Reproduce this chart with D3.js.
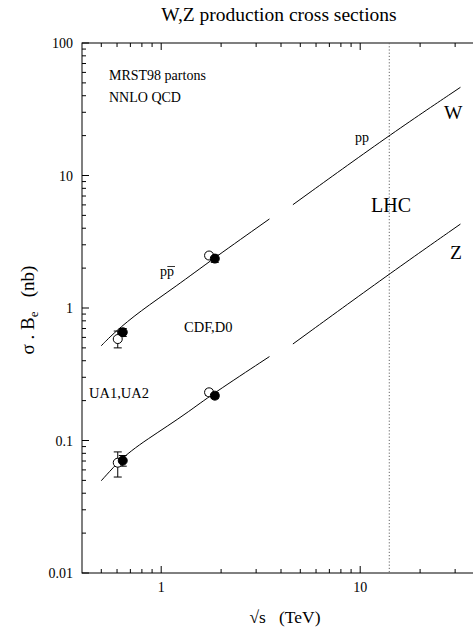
<!DOCTYPE html>
<html>
<head>
<meta charset="utf-8">
<script src="https://cdn.jsdelivr.net/npm/d3@7"></script>
<style>
  body { margin: 0; background: #fff; }
</style>
</head>
<body>
<div id="chart-container"></div>
<script>
const width = 473;
const height = 633;
const marginTop = 43;
const marginLeft = 82;
const marginBottom = 60;
const plotRight = 480; // right frame lies just outside the picture

// theory curves, sqrt(s) in TeV, sigma.B in nb
const wPpbar = [[0.5, 0.519], [0.582, 0.655], [0.778, 0.94], [1.19, 1.46], [1.817, 2.343], [3.5, 4.7]];
const wPp = [[4.59, 6.02], [14, 20.2], [31.9, 46.3]];
const zPpbar = [[0.5, 0.0497], [0.605, 0.0684], [0.707, 0.0838], [0.856, 0.1026], [1.079, 0.129], [1.36, 0.163], [1.78, 0.2205], [3.5, 0.43]];
const zPp = [[4.59, 0.535], [14, 1.81], [31.9, 4.3]];

// data: [sqrt(s), value, low, high, filled]
const wData = [
    [0.605, 0.583, 0.50, 0.67, false],
    [0.641, 0.656, 0.61, 0.70, true],
    [1.74, 2.49, 2.37, 2.61, false],
    [1.86, 2.36, 2.21, 2.51, true]
];
const zData = [
    [0.605, 0.068, 0.053, 0.082, false],
    [0.641, 0.0705, 0.064, 0.077, true],
    [1.74, 0.231, 0.219, 0.243, false],
    [1.86, 0.218, 0.207, 0.229, true]
];

const xMajor = [1, 10];
const yMajor = [0.01, 0.1, 1, 10, 100];
const lhcEnergy = 14;

const svg = d3.select("#chart-container")
    .append("svg")
    .attr("width", width)
    .attr("height", height)
    .attr("font-family", "'Liberation Serif', 'Times New Roman', Times, serif");

const x = d3.scaleLog()
    .domain([0.4, 40])
    .range([marginLeft, plotRight]);

const y = d3.scaleLog()
    .domain([0.01, 100])
    .range([height - marginBottom, marginTop]);

const xMinor = x.ticks().filter(d => !xMajor.includes(d) && d > 0.4 && d < 40);
const yMinor = y.ticks().filter(d => !yMajor.includes(d));

// frame
svg.append("rect")
    .attr("x", marginLeft)
    .attr("y", marginTop)
    .attr("width", plotRight - marginLeft)
    .attr("height", height - marginBottom - marginTop)
    .attr("fill", "none")
    .attr("stroke", "#000")
    .attr("stroke-width", 1);

// ticks, all pointing inward
const tickG = svg.append("g").attr("stroke", "#000").attr("stroke-width", 1);
xMinor.concat(xMajor).forEach(d => {
    const len = xMajor.includes(d) ? 7 : 4;
    tickG.append("line")
        .attr("x1", x(d)).attr("x2", x(d))
        .attr("y1", y(0.01)).attr("y2", y(0.01) - len);
    tickG.append("line")
        .attr("x1", x(d)).attr("x2", x(d))
        .attr("y1", y(100)).attr("y2", y(100) + len);
});
yMinor.concat(yMajor).forEach(d => {
    const len = yMajor.includes(d) ? 7 : 4;
    tickG.append("line")
        .attr("x1", x(0.4)).attr("x2", x(0.4) + len)
        .attr("y1", y(d)).attr("y2", y(d));
});

// tick labels
svg.selectAll(".xlab").data(xMajor).join("text")
    .attr("x", d => x(d))
    .attr("y", y(0.01) + 19)
    .attr("text-anchor", "middle")
    .attr("font-size", 14)
    .text(d => d);

svg.selectAll(".ylab").data(yMajor).join("text")
    .attr("x", x(0.4) - 9)
    .attr("y", d => y(d) + 5)
    .attr("text-anchor", "end")
    .attr("font-size", 14)
    .text(d => d);

// LHC dotted line
svg.append("line")
    .attr("x1", x(lhcEnergy)).attr("x2", x(lhcEnergy))
    .attr("y1", y(100)).attr("y2", y(0.01))
    .attr("stroke", "#666")
    .attr("stroke-width", 1)
    .attr("stroke-dasharray", "1.2,2");

// curves
const line = d3.line()
    .x(d => x(d[0]))
    .y(d => y(d[1]))
    .curve(d3.curveBasis);

[wPpbar, wPp, zPpbar, zPp].forEach(c => {
    svg.append("path")
        .attr("d", line(c))
        .attr("fill", "none")
        .attr("stroke", "#000")
        .attr("stroke-width", 1);
});

// data points with error bars
function drawPoints(data) {
    const g = svg.append("g");
    data.forEach(d => {
        const cx = x(d[0]);
        g.append("line")
            .attr("x1", cx).attr("x2", cx)
            .attr("y1", y(d[2])).attr("y2", y(d[3]))
            .attr("stroke", "#000");
        [d[2], d[3]].forEach(v => {
            g.append("line")
                .attr("x1", cx - 4).attr("x2", cx + 4)
                .attr("y1", y(v)).attr("y2", y(v))
                .attr("stroke", "#000");
        });
    });
    data.forEach(d => {
        g.append("circle")
            .attr("cx", x(d[0]))
            .attr("cy", y(d[1]))
            .attr("r", 4.5)
            .attr("fill", d[4] ? "#000" : "#fff")
            .attr("stroke", "#000")
            .attr("stroke-width", 1);
    });
}
drawPoints(wData);
drawPoints(zData);

// annotations
function label(tx, ty, str, size) {
    return svg.append("text")
        .attr("x", tx).attr("y", ty)
        .attr("font-size", size)
        .text(str);
}
label(109, 80, "MRST98 partons", 14);
label(109, 102, "NNLO QCD", 14);
label(355, 142, "pp", 14);
label(444, 119, "W", 19.5);
label(371, 212, "LHC", 20);
label(450, 259, "Z", 19.5);
label(184, 332, "CDF,D0", 14.5);
label(89, 398, "UA1,UA2", 14.5);

label(160, 276, "pp", 14);
svg.append("line")
    .attr("x1", 167.3).attr("x2", 175)
    .attr("y1", 266.5).attr("y2", 266.5)
    .attr("stroke", "#000").attr("stroke-width", 0.8);

// title
svg.append("text")
    .attr("x", 279).attr("y", 21)
    .attr("text-anchor", "middle")
    .attr("font-size", 19.5)
    .text("W,Z production cross sections");

// axis titles
svg.append("text")
    .attr("x", 285).attr("y", 623)
    .attr("text-anchor", "middle")
    .attr("font-size", 17.5)
    .attr("xml:space", "preserve")
    .text("\u221As   (TeV)");

const yt = svg.append("text")
    .attr("transform", "translate(34,310) rotate(-90)")
    .attr("text-anchor", "middle")
    .attr("font-size", 19)
    .attr("xml:space", "preserve");
yt.append("tspan").text("\u03c3 . B");
yt.append("tspan").attr("font-size", 13).attr("dy", 4).text("e");
yt.append("tspan").attr("dy", -4).text("   (nb)");
</script>
</body>
</html>
